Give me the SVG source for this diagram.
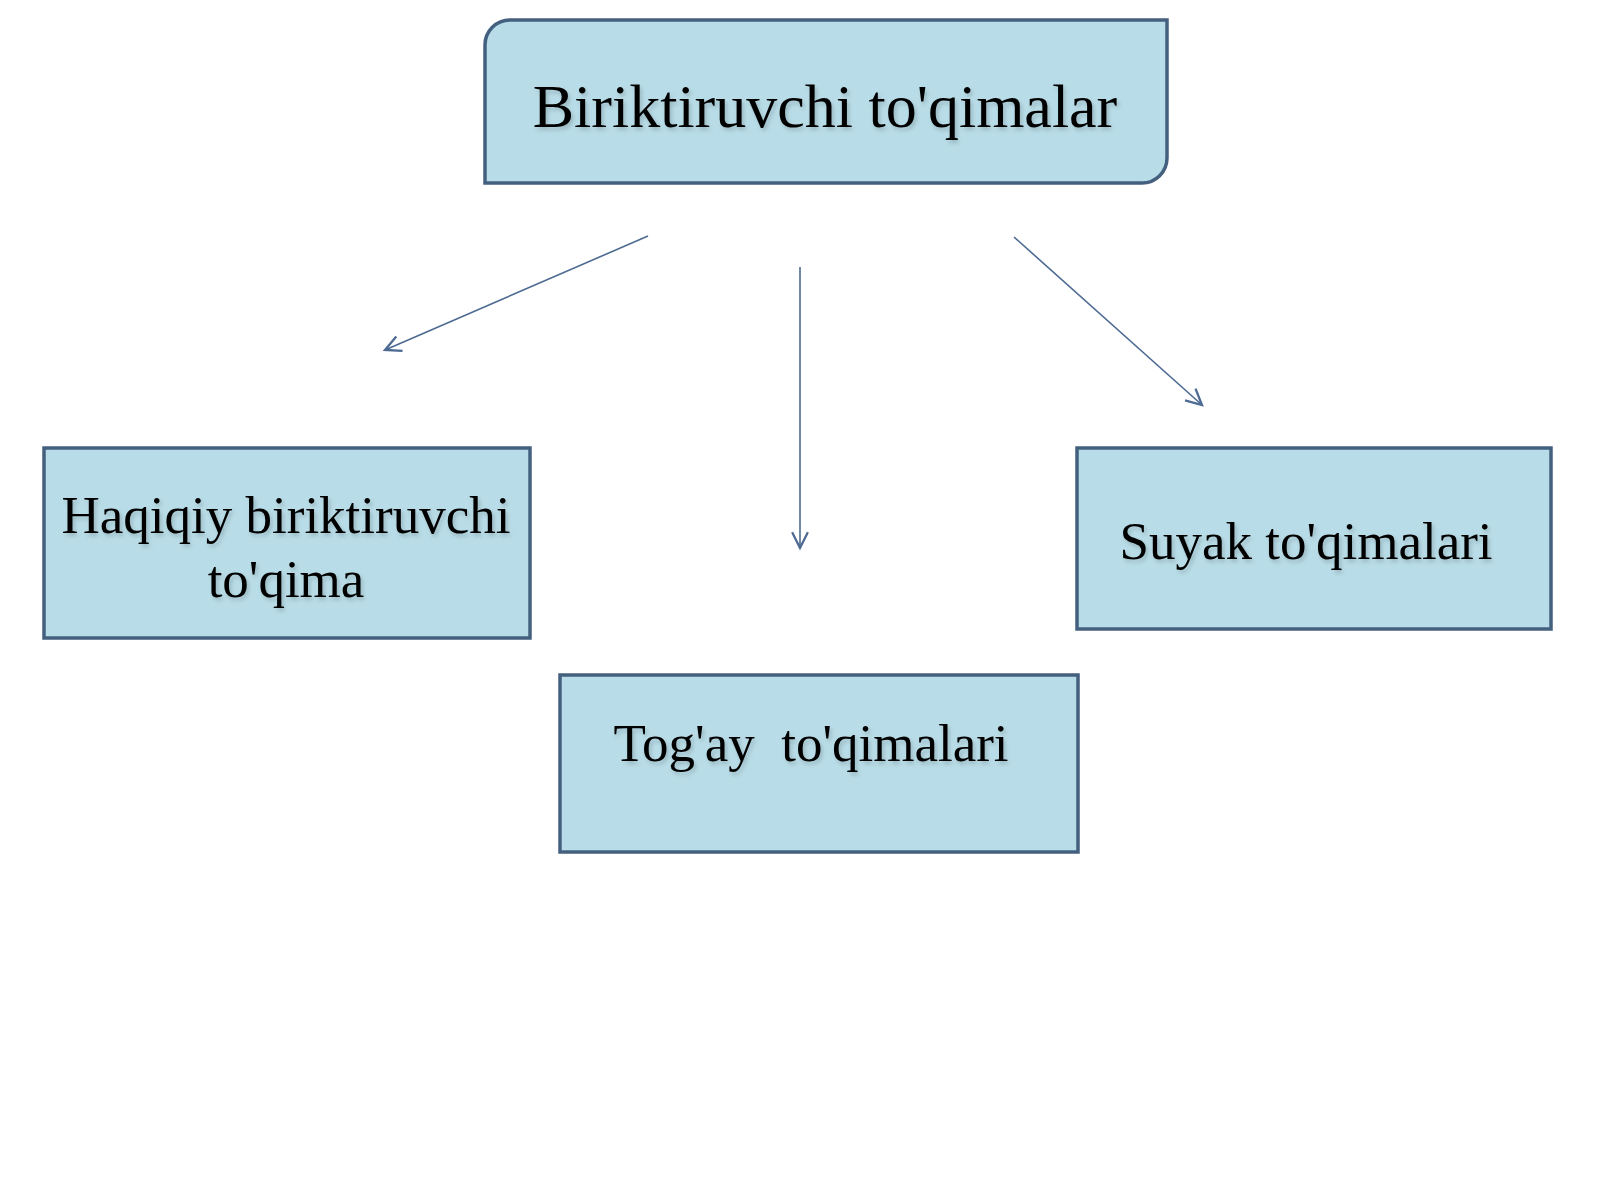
<svg xmlns="http://www.w3.org/2000/svg" width="1600" height="1200" viewBox="0 0 1600 1200">
<defs>
<style>
.box{fill:#b9dde8;stroke:#44607f;stroke-width:3.5}
.t{font-family:"Liberation Serif","Times New Roman",serif;fill:#000;text-anchor:middle;filter:url(#sh)}
.c{fill:none;stroke:#4d6a92;stroke-width:1.6}
</style>
<filter id="sh" x="-10%" y="-30%" width="120%" height="160%">
<feDropShadow dx="2" dy="3" stdDeviation="2" flood-color="#000" flood-opacity="0.18"/>
</filter>
<marker id="ah" markerUnits="userSpaceOnUse" markerWidth="20" markerHeight="20" refX="12" refY="6" orient="auto" viewBox="0 0 14 12">
<path d="M1,0.5 L12,6 L1,11.5" fill="none" stroke="#4d6a92" stroke-width="1.6"/>
</marker>
</defs>
<rect width="1600" height="1200" fill="#fff"/>
<g id="connectors">
<line class="c" x1="648" y1="236" x2="385" y2="350" marker-end="url(#ah)"/>
<line class="c" x1="800" y1="267" x2="800" y2="548" marker-end="url(#ah)"/>
<line class="c" x1="1014" y1="237" x2="1202" y2="405" marker-end="url(#ah)"/>
</g>
<g id="root">
<path class="box" d="M510,20 H1167 V158 A25,25 0 0 1 1142,183 H485 V45 A25,25 0 0 1 510,20 Z"/>
<text class="t" x="825" y="127" font-size="62">Biriktiruvchi to'qimalar</text>
</g>
<g id="haqiqiy">
<rect class="box" x="44" y="448" width="486" height="190"/>
<text class="t" font-size="53"><tspan x="286" y="533">Haqiqiy biriktiruvchi</tspan><tspan x="286" y="597">to'qima</tspan></text>
</g>
<g id="togay">
<rect class="box" x="560" y="675" width="518" height="177"/>
<text class="t" x="811" y="761" font-size="53" xml:space="preserve" style="white-space:pre">Tog'ay  to'qimalari</text>
</g>
<g id="suyak">
<rect class="box" x="1077" y="448" width="474" height="181"/>
<text class="t" x="1306" y="559" font-size="53">Suyak to'qimalari</text>
</g>
</svg>
